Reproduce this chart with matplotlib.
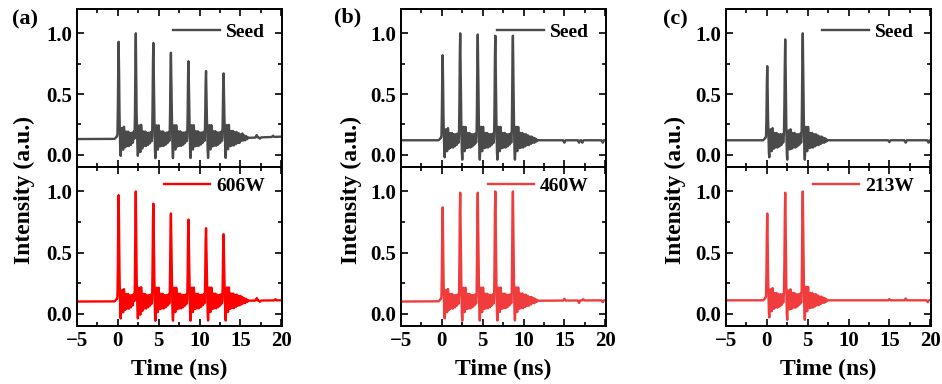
import numpy as np
import matplotlib
matplotlib.use("Agg")
import matplotlib.pyplot as plt
from matplotlib.ticker import MultipleLocator, FormatStrFormatter

plt.rcParams['font.family'] = ['Liberation Serif', 'DejaVu Serif']
plt.rcParams['font.weight'] = 'bold'
plt.rcParams['axes.labelweight'] = 'bold'

# ---------------- data ----------------
DT = 0.05
XMIN, XMAX = -5.0, 20.1
t = np.round(np.arange(XMIN, XMAX + 1e-9, DT), 2)

# single-pulse shape, relative to its peak, offsets -0.15 .. +0.15 ns
pulse_shape = [0.05, 0.3, 0.75, 1.0, 0.7, 0.3, 0.05]
# slow rise just before each pulse, offsets -0.45 .. -0.20 ns
pre_shape = [0.003, 0.006, 0.01, 0.015, 0.02, 0.02]
# ringing after each pulse (deviation from baseline), offsets 0.20 .. ns
ring_shape = [-0.10, -0.14, -0.06, 0.04, 0.09, 0.03, -0.06, -0.09, 0.00, 0.10,
              0.05, -0.05, -0.07, 0.02, 0.06, 0.01, -0.06, -0.04, 0.04, 0.06,
              -0.01, -0.06, -0.02, 0.05, 0.04, -0.03, -0.05, 0.01, 0.05, 0.02,
              -0.04, -0.04, 0.02, 0.04, 0.00, -0.04, -0.02, 0.03, 0.03, -0.02,
              -0.03, 0.01, 0.03, 0.00, -0.02, -0.02, 0.02, 0.02, -0.01, -0.02,
              0.00, 0.015, 0.01, -0.01, -0.01, 0.005]

panel_labels = ['(a)', '(b)', '(c)']
amp_labels = ['606W', '460W', '213W']

# pulse arrival times (ns)
times_a = [0.1, 2.2, 4.35, 6.5, 8.65, 10.8, 12.95]
times_b = [0.1, 2.25, 4.4, 6.55, 8.7]
times_c = [0.05, 2.25, 4.4]

# peak intensities
seed_peaks_a = [0.93, 1.00, 0.92, 0.84, 0.77, 0.69, 0.67]
amp_peaks_a = [0.97, 1.00, 0.90, 0.82, 0.77, 0.70, 0.65]
seed_peaks_b = [0.82, 1.00, 0.99, 0.98, 0.98]
amp_peaks_b = [0.87, 0.99, 0.99, 1.00, 1.00]
seed_peaks_c = [0.73, 0.95, 1.00]
amp_peaks_c = [0.82, 0.99, 1.00]

# baseline level anchors (time, level)
seed_base_t_a = [-5, 13, 16, 20.1]
seed_base_v_a = [0.13, 0.135, 0.14, 0.15]
amp_base_t_a = [-5, 13, 20.1]
amp_base_v_a = [0.10, 0.105, 0.11]
seed_base_t_b = [-5, 20.1]
seed_base_v_b = [0.12, 0.12]
amp_base_t_b = [-5, 20.1]
amp_base_v_b = [0.10, 0.11]
seed_base_t_c = [-5, 20.1]
seed_base_v_c = [0.12, 0.12]
amp_base_t_c = [-5, 20.1]
amp_base_v_c = [0.11, 0.11]

# small wiggles on the tail (time, deviation)
seed_tail_t_a = [15.2, 17.0, 17.4, 19.0]
seed_tail_d_a = [0.01, 0.02, -0.01, 0.01]
amp_tail_t_a = [15.0, 17.0, 17.4, 19.3]
amp_tail_d_a = [0.01, 0.02, -0.01, 0.01]
seed_tail_t_b = [15.0, 16.8, 17.2, 19.7]
seed_tail_d_b = [-0.02, -0.02, -0.02, -0.02]
amp_tail_t_b = [15.0, 16.8, 17.3, 19.7]
amp_tail_d_b = [0.015, -0.02, 0.01, -0.015]
seed_tail_t_c = [15.0, 17.0, 19.8]
seed_tail_d_c = [-0.015, -0.02, -0.02]
amp_tail_t_c = [15.0, 17.0, 19.7]
amp_tail_d_c = [0.01, 0.015, -0.015]

seed_color = '#4a4a4a'
amp_colors = ['#ff0000', '#f03c3c', '#f03c3c']

# shape used to spread each tail wiggle over neighbouring samples
wiggle_shape = [0.3, 0.7, 1.0, 0.7, 0.3]


def build(times, peaks, base_t, base_v, tail_t, tail_d):
    y = np.interp(t, base_t, base_v)
    for tp, pk in zip(times, peaks):
        i0 = int(round((tp - XMIN) / DT))
        for k, v in enumerate(pre_shape):
            y[i0 - 9 + k] += v
        b = y[i0]
        for k, v in enumerate(pulse_shape):
            y[i0 - 3 + k] += (pk - b) * v
        for k, v in enumerate(ring_shape):
            j = i0 + 4 + k
            if j < len(y):
                y[j] += v
    for tt, dd in zip(tail_t, tail_d):
        i0 = int(round((tt - XMIN) / DT))
        for k, v in enumerate(wiggle_shape):
            j = i0 - 2 + k
            if j < len(y):
                y[j] += v * dd
    return y


seed_traces = [
    build(times_a, seed_peaks_a, seed_base_t_a, seed_base_v_a, seed_tail_t_a, seed_tail_d_a),
    build(times_b, seed_peaks_b, seed_base_t_b, seed_base_v_b, seed_tail_t_b, seed_tail_d_b),
    build(times_c, seed_peaks_c, seed_base_t_c, seed_base_v_c, seed_tail_t_c, seed_tail_d_c),
]
amp_traces = [
    build(times_a, amp_peaks_a, amp_base_t_a, amp_base_v_a, amp_tail_t_a, amp_tail_d_a),
    build(times_b, amp_peaks_b, amp_base_t_b, amp_base_v_b, amp_tail_t_b, amp_tail_d_b),
    build(times_c, amp_peaks_c, amp_base_t_c, amp_base_v_c, amp_tail_t_c, amp_tail_d_c),
]

# ---------------- figure ----------------
W, H = 942, 384
fig = plt.figure(figsize=(W / 100, H / 100), dpi=100)

lefts = [77, 401, 726]
ax_w = 205
top_px, mid_px, bot_px = 9, 167, 326
ylab_x = [24, 351, 675]
plab_xy = [(25, 19), (348, 17), (675, 19)]


def style(ax):
    ax.set_xlim(XMIN, XMAX)
    ax.set_ylim(-0.1, 1.2)
    ax.xaxis.set_major_locator(MultipleLocator(5))
    ax.xaxis.set_minor_locator(MultipleLocator(2.5))
    ax.yaxis.set_major_locator(MultipleLocator(0.5))
    ax.yaxis.set_minor_locator(MultipleLocator(0.25))
    ax.yaxis.set_major_formatter(FormatStrFormatter('%.1f'))
    ax.tick_params(which='both', direction='in', top=True, right=True,
                   labelsize=15, width=1.2)
    ax.tick_params(which='major', length=5)
    ax.tick_params(which='minor', length=3)
    for s in ax.spines.values():
        s.set_linewidth(1.4)


for i in range(3):
    l = lefts[i] / W
    w = ax_w / W
    ax_top = fig.add_axes([l, 1 - mid_px / H, w, (mid_px - top_px) / H])
    ax_bot = fig.add_axes([l, 1 - bot_px / H, w, (bot_px - mid_px) / H], sharex=ax_top)
    style(ax_top)
    style(ax_bot)
    ax_top.tick_params(labelbottom=False)

    ax_top.plot(t, seed_traces[i], color=seed_color, lw=1.7, label='Seed')
    ax_bot.plot(t, amp_traces[i], color=amp_colors[i], lw=1.7, label=amp_labels[i])

    for ax, yanc in ((ax_top, 0.957), (ax_bot, 0.983)):
        ax.legend(loc='upper right', bbox_to_anchor=(0.955, yanc), frameon=False,
                  handlelength=2.4, handletextpad=0.3, borderaxespad=0.0,
                  prop={'weight': 'bold', 'size': 14})

    ax_bot.set_xlabel('Time (ns)', fontsize=17, fontweight='bold', labelpad=6)
    fig.text(ylab_x[i] / W, 1 - 190 / H, 'Intensity (a.u.)', rotation=90,
             ha='center', va='center', fontsize=17, fontweight='bold')
    fig.text(plab_xy[i][0] / W, 1 - plab_xy[i][1] / H, panel_labels[i],
             ha='center', va='center', fontsize=16, fontweight='bold')

fig.savefig('out.png', dpi=100)
